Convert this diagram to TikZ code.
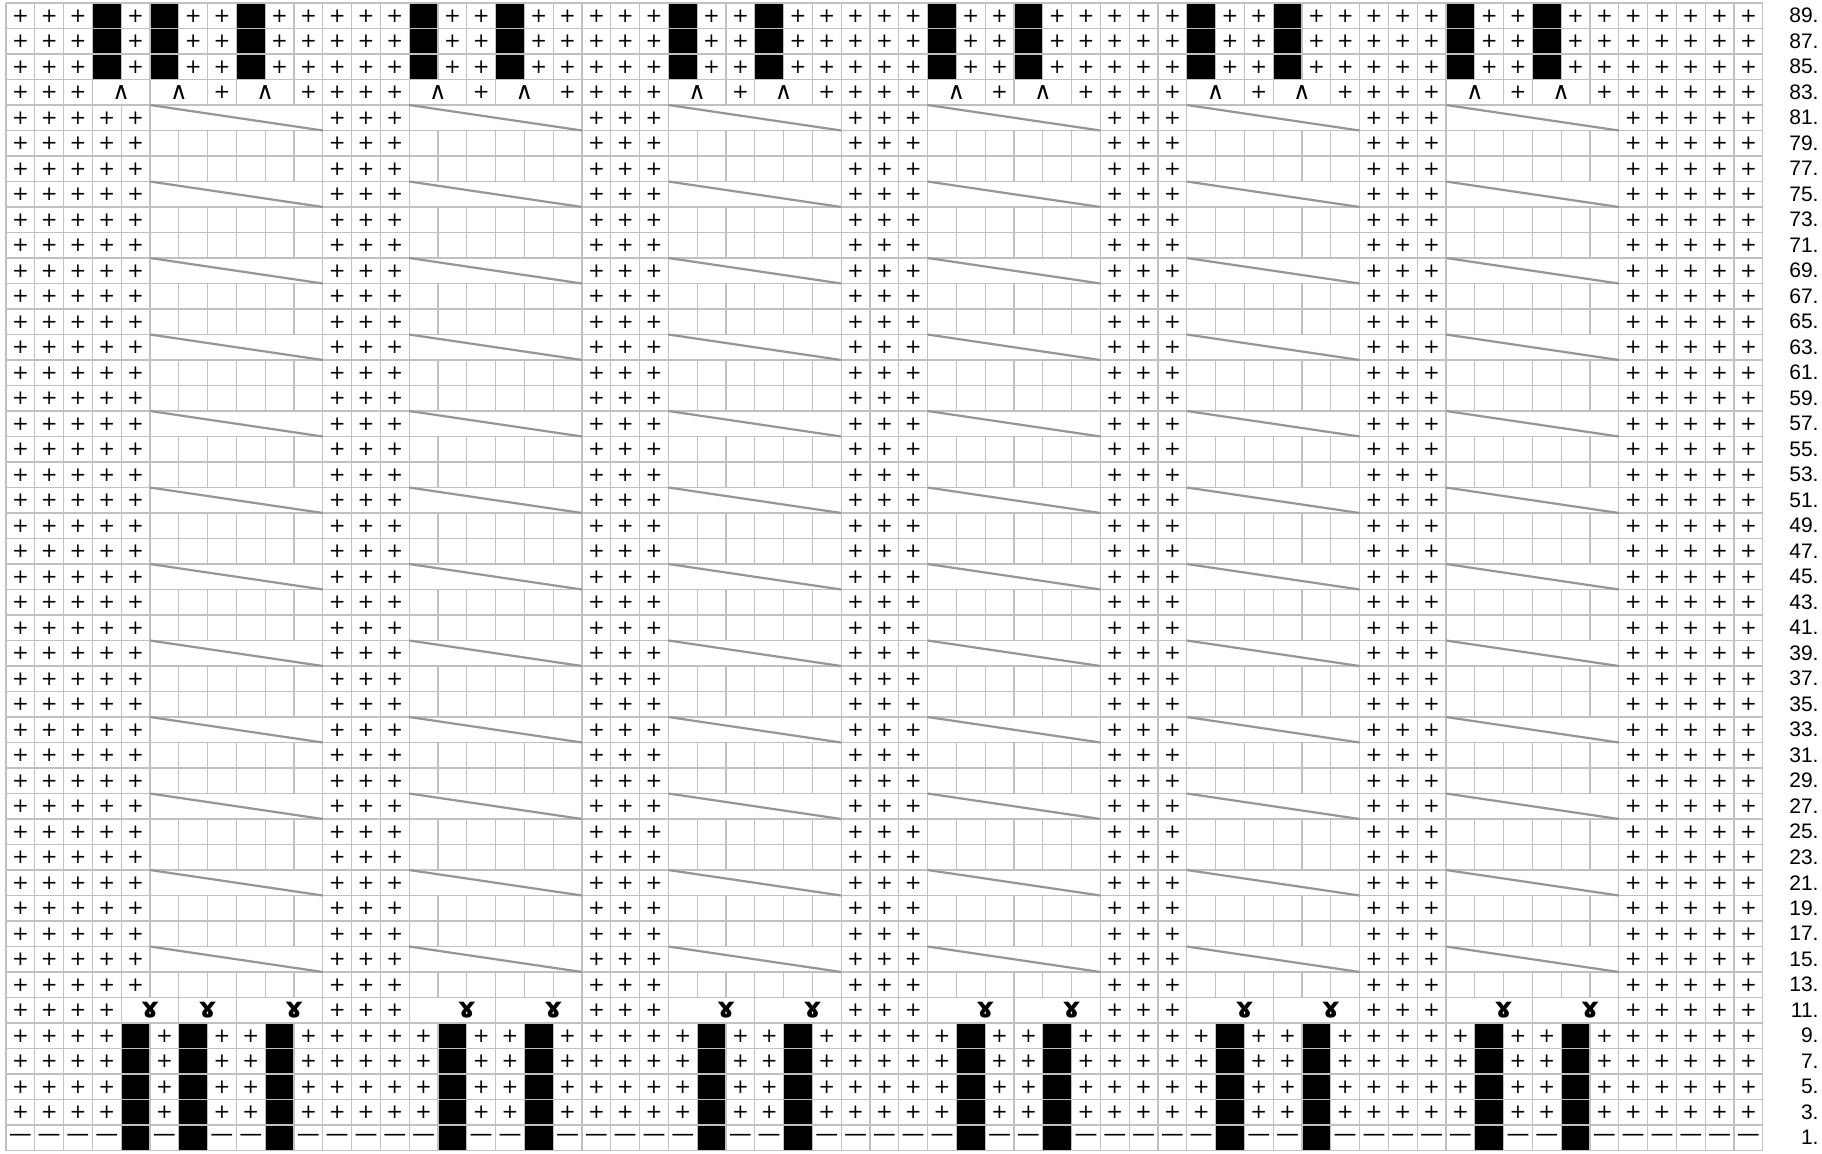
\documentclass[tikz,border=0pt]{standalone}
\usepackage{fontspec}
\usepackage{tikz}
\setmainfont{Liberation Sans}
\newfontfamily\chartfont{DejaVu Sans}
\definecolor{ChartGrid}{RGB}{192,192,192}
\definecolor{ChartCable}{RGB}{150,150,150}

\tikzset{
	gridline/.style={ChartGrid, line width=0.6pt},
	mergedcell/.style={ChartGrid, line width=0.6pt, fill=white},
	cableline/.style={ChartCable, line width=1.1pt},
	stitch/.style={inner sep=0pt, font=\chartfont\fontsize{10}{10}\selectfont},
	purl/.style={inner sep=0pt, font=\chartfont\fontsize{11.5}{11.5}\selectfont},
	decrease/.style={inner sep=0pt, font=\chartfont\fontsize{12}{12}\selectfont},
	ribbon/.style={inner sep=0pt, font=\chartfont\bfseries\fontsize{14}{14}\selectfont},
	rowlabel/.style={anchor=east, inner sep=0pt, font=\fontsize{10.5}{10.5}\selectfont}
}

\begin{document}
\begin{tikzpicture}[x=14.4pt, y=-12.75pt]

	% Page frame
	\useasboundingbox (-0.2083,-0.1176) rectangle (63.0556,45.098);

	% Top rib: rows 89 to 85
	\foreach \row in {0,1,2}{
		\foreach \col in {1,...,61}{
			\pgfmathtruncatemacro\blk{or(\col==4,or(and(mod(\col,9)==6,\col<52),mod(\col,9)==0))}
			\ifnum\blk=1
				\fill[black] (\col-1,\row) rectangle (\col,\row+1);
			\else
				\node[stitch] (k-\row-\col) at (\col-0.5,\row+0.5) {+};
			\fi
		}
	}

	% Decrease row 83
	\foreach \col in {1,...,61}{
		\pgfmathtruncatemacro\mrg{or(or(\col==4,\col==5),and(and(\col>5,\col<56),or(or(mod(\col,9)==6,mod(\col,9)==7),or(mod(\col,9)==0,mod(\col,9)==1))))}
		\ifnum\mrg=0
			\node[stitch] (k-3-\col) at (\col-0.5,3.5) {+};
		\fi
	}

	% Cable panels: rows 81 to 13
	\foreach \row in {4,...,38}{
		\foreach \col in {1,...,61}{
			\pgfmathtruncatemacro\cab{and(and(\col>5,\col<57),mod(\col-6,9)<6)}
			\ifnum\cab=0
				\node[stitch] (k-\row-\col) at (\col-0.5,\row+0.5) {+};
			\fi
		}
	}

	% Twisted row 11
	\foreach \col in {1,...,61}{
		\pgfmathtruncatemacro\cab{or(\col==5,and(and(\col>5,\col<57),mod(\col-6,9)<6))}
		\ifnum\cab=0
			\node[stitch] (k-39-\col) at (\col-0.5,39.5) {+};
		\fi
	}

	% Bottom rib: rows 9 to 1
	\foreach \row in {40,...,44}{
		\foreach \col in {1,...,61}{
			\pgfmathtruncatemacro\blk{or(\col==5,or(and(mod(\col,9)==7,\col<53),and(mod(\col,9)==1,\col>9)))}
			\ifnum\blk=1
				\fill[black] (\col-1,\row) rectangle (\col,\row+1);
			\else\ifnum\row=44
				\node[purl] (k-\row-\col) at (\col-0.5,\row+0.5) {—};
			\else
				\node[stitch] (k-\row-\col) at (\col-0.5,\row+0.5) {+};
			\fi\fi
		}
	}

	% Grid
	\foreach \row in {0,...,45}
		\draw[gridline] (0,\row) -- (61,\row);
	\foreach \col in {0,...,61}
		\draw[gridline] (\col,0) -- (\col,45);

	% Merged cells of row 83
	\filldraw[mergedcell] (3,3) rectangle (5,4);
	\node[decrease] (dec-0) at (4,3.5) {∧};
	\foreach \k in {0,...,5}{
		\filldraw[mergedcell] (5+9*\k,3) rectangle (7+9*\k,4);
		\filldraw[mergedcell] (8+9*\k,3) rectangle (10+9*\k,4);
		\node[decrease] (dec-a\k) at (6+9*\k,3.5) {∧};
		\node[decrease] (dec-b\k) at (9+9*\k,3.5) {∧};
	}

	% Cable crossings
	\foreach \row in {4,7,...,37}{
		\foreach \k in {0,...,5}{
			\filldraw[mergedcell] (5+9*\k,\row) rectangle (11+9*\k,\row+1);
			\draw[cableline] (5+9*\k,\row) -- (11+9*\k,\row+1);
		}
	}

	% Twisted stitches of row 11
	\filldraw[mergedcell] (4,39) rectangle (6,40);
	\filldraw[mergedcell] (6,39) rectangle (8,40);
	\node[ribbon] (tw-0) at (5,39.5) {ɤ};
	\foreach \k in {1,...,5}
		\filldraw[mergedcell] (5+9*\k,39) rectangle (8+9*\k,40);
	\foreach \k in {0,...,5}{
		\filldraw[mergedcell] (8+9*\k,39) rectangle (11+9*\k,40);
		\node[ribbon] (tw-a\k) at (7+9*\k,39.5) {ɤ};
		\node[ribbon] (tw-b\k) at (10+9*\k,39.5) {ɤ};
	}

	% Row numbers
	\foreach \i in {0,...,44}{
		\pgfmathtruncatemacro\num{89-2*\i}
		\node[rowlabel] (r-\num) at (62.95,\i+0.5) {\num.};
	}

\end{tikzpicture}
\end{document}
